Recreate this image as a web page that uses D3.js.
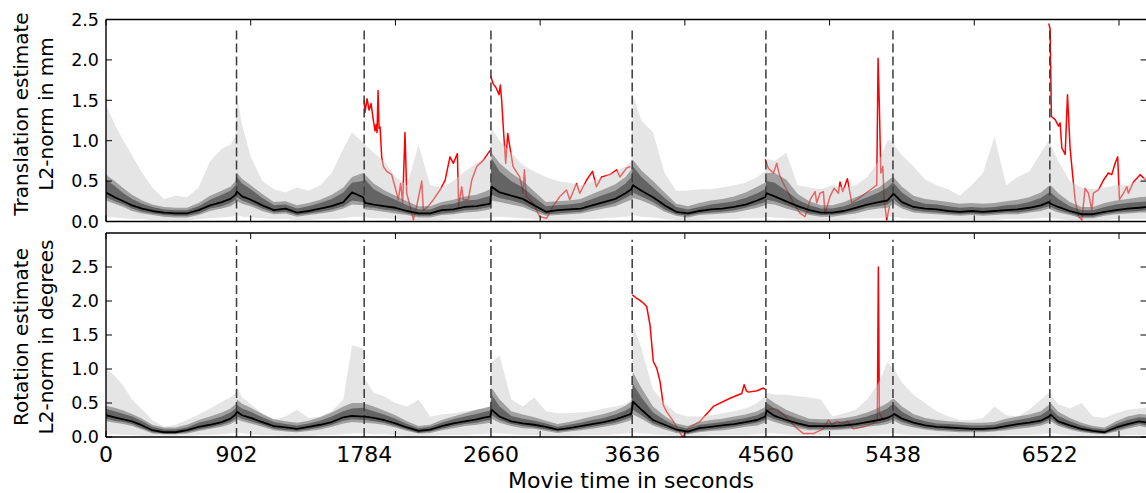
<!DOCTYPE html>
<html><head><meta charset="utf-8">
<script src="https://cdn.jsdelivr.net/npm/d3@7"></script>
<style>body{margin:0;background:#fff} svg{display:block} text{font-family:"DejaVu Sans",sans-serif;fill:#000}</style>
</head><body><svg id="c" width="1146" height="493"></svg>
<script>
// ---------- DATA ----------
const times = [0,60,120,180,250,320,400,480,560,640,720,800,860,895,905,940,
1000,1080,1160,1240,1320,1400,1480,1560,1640,1700,1776,1790,1850,
1920,2000,2080,2160,2240,2320,2400,2480,2560,2620,2655,2665,2720,
2800,2880,2960,3040,3120,3200,3280,3360,3440,3520,3590,3630,3642,3700,
3780,3860,3940,4020,4100,4180,4260,4340,4420,4500,4555,4565,4620,
4700,4780,4860,4940,5020,5100,5180,5260,5340,5400,5435,5445,5500,
5580,5660,5740,5820,5900,5980,6060,6140,6220,6300,6380,6460,6515,6528,6580,
6660,6740,6820,6900,6980,7060,7140,7200];

const events = [902,1784,2660,3636,4560,5438,6522];
const xTickLabels = [0,902,1784,2660,3636,4560,5438,6522];
const xTickMarks = [0,1000,2000,3000,4000,5000,6000,7000];
const yTickValues = [0,0.5,1.0,1.5,2.0,2.5];

// Translation panel
const topMedian = [.36,.30,.25,.20,.16,.13,.11,.10,.10,.14,.20,.24,.28,.33,.37,.31,
.27,.20,.14,.16,.11,.13,.16,.19,.24,.36,.30,.23,.21,
.19,.17,.13,.10,.10,.14,.15,.18,.19,.21,.22,.43,.36,
.32,.28,.20,.12,.14,.15,.16,.20,.24,.28,.35,.40,.45,.38,
.30,.20,.12,.10,.13,.15,.16,.18,.21,.26,.30,.35,.31,
.25,.19,.14,.11,.11,.13,.17,.21,.24,.26,.33,.34,.24,
.18,.16,.15,.13,.12,.13,.12,.13,.14,.15,.17,.20,.24,.22,.18,
.13,.09,.09,.12,.14,.16,.17,.18];
const topDarkHi = [.52,.44,.35,.28,.22,.18,.15,.14,.14,.19,.27,.33,.38,.45,.55,.47,
.40,.29,.20,.21,.16,.19,.23,.28,.36,.48,.50,.52,.40,
.33,.27,.20,.15,.15,.20,.22,.26,.27,.30,.32,.78,.62,
.50,.42,.30,.19,.20,.21,.23,.28,.33,.38,.47,.55,.68,.55,
.42,.29,.18,.15,.18,.21,.23,.25,.29,.35,.40,.50,.48,
.38,.27,.20,.16,.16,.19,.24,.30,.36,.42,.48,.47,.36,
.26,.22,.21,.19,.17,.18,.17,.18,.20,.21,.24,.29,.36,.36,.28,
.19,.14,.14,.18,.21,.23,.24,.25];
const topDarkLo = [.30,.25,.21,.16,.12,.10,.08,.07,.07,.10,.16,.19,.23,.27,.30,.26,
.22,.16,.11,.12,.08,.10,.12,.15,.19,.26,.24,.18,.17,
.15,.13,.10,.07,.07,.10,.11,.14,.15,.17,.18,.33,.29,
.26,.22,.15,.09,.10,.11,.12,.16,.19,.23,.29,.33,.36,.31,
.24,.15,.09,.07,.10,.11,.12,.14,.17,.21,.24,.27,.25,
.20,.15,.10,.08,.08,.10,.13,.17,.19,.21,.26,.27,.19,
.14,.12,.11,.10,.09,.10,.09,.10,.11,.11,.13,.16,.19,.18,.14,
.10,.06,.06,.09,.11,.12,.13,.14];
const topMidHi = [.58,.50,.41,.33,.26,.21,.18,.17,.17,.23,.32,.38,.43,.50,.60,.53,
.45,.34,.24,.25,.20,.23,.27,.33,.42,.55,.60,.58,.47,
.39,.32,.25,.19,.19,.24,.27,.31,.33,.37,.40,.85,.72,
.60,.50,.37,.24,.25,.26,.28,.34,.40,.46,.55,.64,.76,.63,
.50,.36,.22,.19,.23,.26,.28,.31,.36,.43,.48,.60,.60,
.52,.34,.25,.20,.20,.24,.30,.36,.42,.50,.55,.54,.43,
.32,.28,.26,.24,.22,.23,.22,.23,.25,.27,.30,.36,.44,.45,.35,
.24,.18,.18,.23,.26,.28,.30,.31];
const topMidLo = [.26,.22,.18,.13,.10,.08,.06,.05,.05,.08,.13,.16,.19,.23,.25,.22,
.19,.13,.09,.10,.06,.08,.10,.12,.16,.21,.20,.15,.14,
.12,.10,.08,.05,.05,.08,.09,.11,.12,.14,.15,.26,.24,
.21,.18,.12,.07,.08,.09,.10,.13,.16,.19,.24,.27,.29,.26,
.20,.12,.07,.05,.08,.09,.10,.11,.14,.17,.20,.22,.21,
.16,.12,.08,.06,.06,.08,.10,.14,.16,.17,.21,.22,.16,
.11,.10,.09,.08,.07,.08,.07,.08,.09,.09,.11,.13,.16,.15,.11,
.08,.04,.04,.07,.09,.10,.11,.11];
const topLightHi = [1.45,1.20,1.00,.82,.60,.42,.28,.32,.30,.42,.75,.90,.95,1.05,1.55,1.20,
.80,.50,.40,.36,.42,.38,.45,.60,.90,1.10,.98,.95,.85,
.75,.55,.45,.95,.45,.42,.50,.62,.72,.78,.80,1.15,1.00,
.85,.70,.62,.55,.50,.48,.45,.50,.55,.62,.68,.75,1.55,1.25,
1.10,.60,.38,.38,.40,.40,.42,.45,.48,.55,.62,.78,.75,
.85,.45,.42,.40,.45,.42,.45,.55,.75,1.00,1.00,.95,.82,
.68,.52,.45,.40,.32,.45,.60,1.05,.45,.55,.62,.85,1.00,.95,.75,
.50,.42,.40,.42,.45,.45,.52,.55];
const topLightLo = [.06,.05,.04,.03,.03,.02,.02,.02,.02,.03,.04,.05,.06,.07,.08,.06,
.05,.04,.03,.03,.02,.02,.03,.03,.04,.06,.06,.05,.04,
.04,.03,.02,.02,.02,.02,.03,.03,.03,.04,.04,.06,.06,
.05,.04,.03,.02,.02,.02,.03,.03,.04,.05,.06,.07,.08,.06,
.05,.03,.02,.02,.02,.03,.03,.03,.04,.04,.05,.06,.05,
.04,.03,.02,.02,.02,.02,.03,.04,.04,.05,.06,.06,.04,
.03,.03,.03,.02,.02,.02,.02,.02,.03,.03,.03,.04,.05,.05,.03,
.02,.02,.02,.02,.03,.03,.03,.03];
const topRed = [
 [[1784,1.50],[1790,1.35],[1804,1.52],[1818,1.38],[1832,1.46],[1845,1.28],[1859,1.12],[1866,1.20],[1873,1.10],[1880,1.62],[1887,1.15],[1894,1.17],[1905,0.80],[1917,0.68],[1940,0.62],[1974,0.58],[1997,0.43],[2020,0.27],[2036,0.47],[2050,0.23],[2066,1.10],[2078,0.35],[2101,0.19],[2124,0.02],[2147,0.19],[2182,0.50],[2193,0.14],[2228,0.19],[2262,0.27],[2308,0.39],[2343,0.51],[2377,0.80],[2400,0.72],[2428,0.84],[2437,0.19],[2458,0.43],[2469,0.27],[2504,0.27],[2527,0.51],[2562,0.68],[2608,0.76],[2654,0.88]],
 [[2658,1.80],[2674,1.71],[2697,1.65],[2716,1.57],[2725,1.69],[2734,1.50],[2748,1.09],[2762,0.72],[2776,1.09],[2790,0.93],[2813,0.68],[2859,0.55],[2882,0.35],[2891,0.64],[2905,0.31],[2951,0.23],[2997,0.06],[3044,0.04],[3090,0.19],[3136,0.31],[3182,0.39],[3205,0.27],[3251,0.47],[3274,0.35],[3320,0.51],[3362,0.62],[3389,0.43],[3424,0.55],[3482,0.58],[3528,0.64],[3551,0.55],[3597,0.66],[3624,0.68]],
 [[4555,0.77],[4577,0.66],[4612,0.60],[4635,0.72],[4653,0.58],[4681,0.47],[4716,0.35],[4750,0.23],[4796,0.10],[4831,0.06],[4866,0.27],[4900,0.37],[4911,0.23],[4934,0.35],[4957,0.37],[4969,0.10],[5003,0.31],[5031,0.41],[5061,0.35],[5072,0.49],[5091,0.37],[5123,0.53],[5153,0.23],[5188,0.27],[5234,0.33],[5280,0.39],[5326,0.45],[5335,2.02],[5344,1.43],[5354,0.60],[5368,0.68],[5377,0.27],[5395,0.02],[5414,0.19]],
 [[6515,2.45],[6524,2.38],[6533,1.30],[6559,1.26],[6582,1.18],[6593,1.22],[6605,0.91],[6628,0.83],[6644,1.57],[6662,0.91],[6681,0.55],[6697,0.27],[6720,0.06],[6743,0.02],[6766,0.41],[6789,0.35],[6812,0.14],[6823,0.35],[6858,0.39],[6892,0.51],[6927,0.60],[6950,0.58],[6973,0.72],[6991,0.80],[7003,0.27],[7031,0.35],[7054,0.43],[7065,0.35],[7100,0.49],[7146,0.58],[7187,0.51]]
];

// Rotation panel
const botMedian = [.32,.29,.26,.23,.17,.10,.07,.07,.10,.15,.18,.22,.27,.33,.37,.32,
.28,.22,.16,.14,.12,.15,.18,.22,.29,.31,.30,.30,.28,
.25,.20,.14,.09,.11,.16,.20,.23,.26,.29,.30,.40,.30,
.23,.20,.18,.15,.11,.13,.16,.19,.22,.26,.31,.34,.52,.40,
.25,.18,.11,.08,.13,.15,.17,.19,.22,.25,.30,.39,.31,
.25,.20,.16,.16,.16,.17,.19,.22,.25,.28,.32,.34,.27,
.21,.17,.15,.14,.13,.12,.12,.13,.16,.19,.21,.24,.30,.33,.23,
.17,.12,.09,.07,.14,.19,.23,.21];
const botDarkHi = [.41,.38,.34,.30,.23,.15,.11,.11,.14,.21,.25,.30,.36,.42,.47,.42,
.37,.29,.22,.19,.17,.20,.24,.30,.38,.42,.43,.42,.38,
.33,.27,.19,.13,.15,.21,.26,.30,.34,.37,.39,.62,.45,
.31,.27,.24,.20,.15,.18,.21,.25,.28,.33,.39,.44,.78,.58,
.36,.25,.16,.12,.18,.20,.22,.25,.28,.32,.38,.50,.42,
.33,.27,.22,.21,.21,.23,.26,.30,.36,.42,.48,.48,.37,
.28,.23,.20,.19,.18,.17,.17,.18,.22,.25,.28,.32,.40,.42,.31,
.23,.17,.13,.11,.19,.25,.29,.28];
const botDarkLo = [.27,.24,.22,.19,.13,.07,.05,.05,.07,.11,.14,.18,.22,.27,.30,.27,
.23,.18,.12,.10,.09,.11,.14,.18,.24,.26,.25,.25,.23,
.21,.16,.11,.06,.08,.12,.16,.19,.21,.24,.25,.32,.25,
.19,.16,.14,.11,.08,.10,.12,.15,.18,.21,.26,.29,.40,.32,
.20,.14,.08,.05,.09,.11,.13,.15,.18,.21,.25,.31,.26,
.21,.16,.12,.12,.12,.13,.15,.18,.20,.23,.26,.28,.22,
.17,.13,.11,.10,.09,.09,.09,.10,.12,.15,.17,.20,.25,.27,.19,
.13,.09,.06,.05,.10,.15,.19,.17];
const botMidHi = [.46,.43,.39,.34,.27,.18,.14,.14,.18,.25,.30,.36,.42,.48,.55,.49,
.43,.34,.26,.23,.21,.24,.29,.36,.45,.50,.50,.49,.45,
.39,.32,.23,.16,.18,.25,.30,.35,.40,.43,.45,.72,.55,
.38,.33,.29,.24,.19,.22,.26,.30,.34,.39,.46,.52,.95,.72,
.45,.31,.20,.16,.22,.25,.27,.30,.33,.38,.44,.58,.50,
.40,.33,.27,.26,.26,.28,.31,.36,.43,.50,.56,.56,.45,
.34,.28,.25,.23,.22,.21,.21,.22,.27,.30,.33,.38,.47,.50,.37,
.28,.21,.16,.14,.23,.30,.34,.33];
const botMidLo = [.23,.21,.19,.16,.11,.05,.04,.04,.05,.09,.12,.15,.19,.23,.26,.23,
.20,.15,.10,.08,.07,.09,.11,.15,.20,.22,.21,.21,.20,
.18,.14,.09,.05,.06,.10,.13,.16,.18,.20,.21,.27,.21,
.16,.13,.12,.09,.06,.08,.10,.12,.15,.18,.22,.25,.33,.27,
.17,.11,.06,.04,.07,.09,.10,.12,.15,.17,.21,.26,.22,
.17,.13,.10,.10,.10,.11,.12,.15,.17,.19,.22,.24,.18,
.14,.11,.09,.08,.07,.07,.07,.08,.10,.12,.14,.17,.21,.23,.16,
.11,.07,.05,.04,.08,.12,.16,.14];
const botLightHi = [1.00,.90,.75,.55,.40,.25,.15,.18,.25,.33,.42,.52,.58,.65,.75,.58,
.48,.35,.25,.30,.40,.28,.30,.38,.55,1.35,1.30,.85,.65,
.60,.50,.45,.55,.30,.33,.35,.38,.40,.42,.45,1.10,1.20,
.55,.45,.58,.38,.35,.35,.36,.38,.42,.45,.48,.55,1.65,1.30,
.70,.50,.35,.30,.30,.32,.35,.38,.42,.50,.60,.65,.62,
.62,.60,.58,.55,.30,.35,.40,.55,.80,1.10,1.02,1.00,.80,
.62,.50,.38,.30,.25,.25,.28,.45,.32,.30,.40,.55,.65,.62,.48,
.42,.50,.30,.28,.35,.40,.42,.44];
const botLightLo = [.04,.04,.03,.03,.02,.02,.02,.02,.02,.03,.03,.04,.05,.06,.07,.05,
.04,.03,.03,.02,.02,.02,.03,.03,.04,.05,.05,.05,.04,
.04,.03,.02,.02,.02,.03,.03,.03,.04,.04,.05,.06,.05,
.04,.03,.03,.02,.02,.02,.03,.03,.03,.04,.05,.05,.07,.05,
.04,.03,.02,.02,.02,.03,.03,.03,.03,.04,.05,.06,.05,
.04,.03,.03,.03,.03,.03,.03,.03,.04,.04,.05,.06,.04,
.03,.03,.03,.02,.02,.02,.02,.02,.03,.03,.03,.04,.05,.06,.04,
.03,.02,.02,.02,.02,.03,.03,.03];
const botRed = [
 [[3637,2.09],[3667,2.04],[3690,2.01],[3713,1.97],[3736,1.92],[3759,1.65],[3782,1.11],[3806,1.01],[3829,0.81],[3851,0.47],[3875,0.37],[3921,0.23],[3955,0.10],[3985,0.00],[4024,0.13],[4105,0.23],[4197,0.45],[4312,0.57],[4393,0.64],[4410,0.77],[4425,0.68],[4439,0.66],[4500,0.68],[4543,0.72],[4555,0.70]],
 [[4566,0.39],[4600,0.42],[4635,0.41],[4670,0.35],[4704,0.28],[4740,0.20],[4773,0.13],[4819,0.05],[4888,0.05],[4957,0.12],[4992,0.25],[5015,0.18],[5050,0.23],[5095,0.20],[5123,0.23],[5164,0.12],[5234,0.15],[5303,0.20],[5330,0.25],[5337,2.50],[5344,0.35],[5372,0.25],[5406,0.30]]
];

// ---------- DRAWING ----------
const svg = d3.select('#c');
const x = d3.scaleLinear().domain([0,7190]).range([106,1146.5]);

const panels = [
  {id:'t', y:d3.scaleLinear().domain([0,2.5]).range([221.5,19.5]),
   med:topMedian, dHi:topDarkHi, dLo:topDarkLo, mHi:topMidHi, mLo:topMidLo, lHi:topLightHi, lLo:topLightLo,
   red:topRed, vTop:2.4, lab:['Translation estimate','L2-norm in mm'], labY:114},
  {id:'b', y:d3.scaleLinear().domain([0,3.0]).range([437,233]),
   med:botMedian, dHi:botDarkHi, dLo:botDarkLo, mHi:botMidHi, mLo:botMidLo, lHi:botLightHi, lLo:botLightLo,
   red:botRed, vTop:2.9, lab:['Rotation estimate','L2-norm in degrees'], labY:337}
];

const defs = svg.append('defs');

panels.forEach(p => {
  const y = p.y;
  const [y0, y1] = y.range(); // bottom, top
  const [x0, x1] = x.range();
  defs.append('clipPath').attr('id','clip-'+p.id).append('rect')
    .attr('x',x0).attr('y',y1).attr('width',x1-x0).attr('height',y0-y1);
  const g = svg.append('g').attr('clip-path','url(#clip-'+p.id+')');

  // red estimate segments
  const redLine = d3.line().x(d=>x(d[0])).y(d=>y(d[1]));
  p.red.forEach(seg => g.append('path').attr('d',redLine(seg))
    .attr('fill','none').attr('stroke','#ff0000').attr('stroke-width',1.5).attr('stroke-linejoin','round'));

  const area = (lo,hi) => d3.area().x((d,i)=>x(times[i])).y0((d,i)=>y(lo[i])).y1((d,i)=>y(hi[i]))(times);
  g.append('path').attr('d',area(p.lLo,p.lHi)).attr('fill','#cbcbcb').attr('fill-opacity',0.5);
  g.append('path').attr('d',area(p.mLo,p.mHi)).attr('fill','#5b5b5b').attr('fill-opacity',0.5);
  g.append('path').attr('d',area(p.dLo,p.dHi)).attr('fill','#282828').attr('fill-opacity',0.5);

  // dashed event lines
  events.forEach(e => g.append('line')
    .attr('x1',x(e)).attr('x2',x(e)).attr('y1',y(0)).attr('y2',y(p.vTop))
    .attr('stroke','#3a3a3a').attr('stroke-width',1.5).attr('stroke-dasharray','9,4'));

  // median line
  const medLine = d3.line().x((d,i)=>x(times[i])).y((d,i)=>y(p.med[i]));
  g.append('path').attr('d',medLine(times)).attr('fill','none')
    .attr('stroke','#000').attr('stroke-width',1.8).attr('stroke-linejoin','round');

  // spines
  const ax = svg.append('g');
  ax.append('line').attr('x1',x0).attr('x2',x1).attr('y1',y1).attr('y2',y1).attr('stroke','#000').attr('stroke-width',1.4);
  ax.append('line').attr('x1',x0).attr('x2',x1).attr('y1',y0).attr('y2',y0).attr('stroke','#000').attr('stroke-width',1.4);
  ax.append('line').attr('x1',x0).attr('x2',x0).attr('y1',y1).attr('y2',y0).attr('stroke','#000').attr('stroke-width',1.4);

  // x tick marks (inward, top & bottom)
  xTickMarks.forEach(t => {
    ax.append('line').attr('x1',x(t)).attr('x2',x(t)).attr('y1',y0).attr('y2',y0-6).attr('stroke','#000').attr('stroke-width',1);
    ax.append('line').attr('x1',x(t)).attr('x2',x(t)).attr('y1',y1).attr('y2',y1+6).attr('stroke','#000').attr('stroke-width',1);
  });
  // y ticks (inward, left & right) + labels
  yTickValues.forEach(v => {
    ax.append('line').attr('x1',x0).attr('x2',x0+6).attr('y1',y(v)).attr('y2',y(v)).attr('stroke','#000').attr('stroke-width',1);
    ax.append('line').attr('x1',x1-6).attr('x2',x1).attr('y1',y(v)).attr('y2',y(v)).attr('stroke','#000').attr('stroke-width',1);
    ax.append('text').attr('x',x0-7).attr('y',y(v)).attr('dy','0.36em')
      .attr('text-anchor','end').style('font-size','17.5px').text(v.toFixed(1));
  });

  // y axis label (two lines)
  const lt = svg.append('text').attr('transform',`translate(0,${p.labY}) rotate(-90)`)
    .attr('text-anchor','middle').style('font-size','20px');
  lt.append('tspan').attr('x',0).attr('y',28).text(p.lab[0]);
  lt.append('tspan').attr('x',0).attr('y',53).text(p.lab[1]);
});

// x tick labels under bottom panel
xTickLabels.forEach(t => svg.append('text').attr('x',x(t)).attr('y',462)
  .attr('text-anchor','middle').style('font-size','22px').text(t));
svg.append('text').attr('x',631).attr('y',488).attr('text-anchor','middle')
  .style('font-size','22px').text('Movie time in seconds');
</script></body></html>
